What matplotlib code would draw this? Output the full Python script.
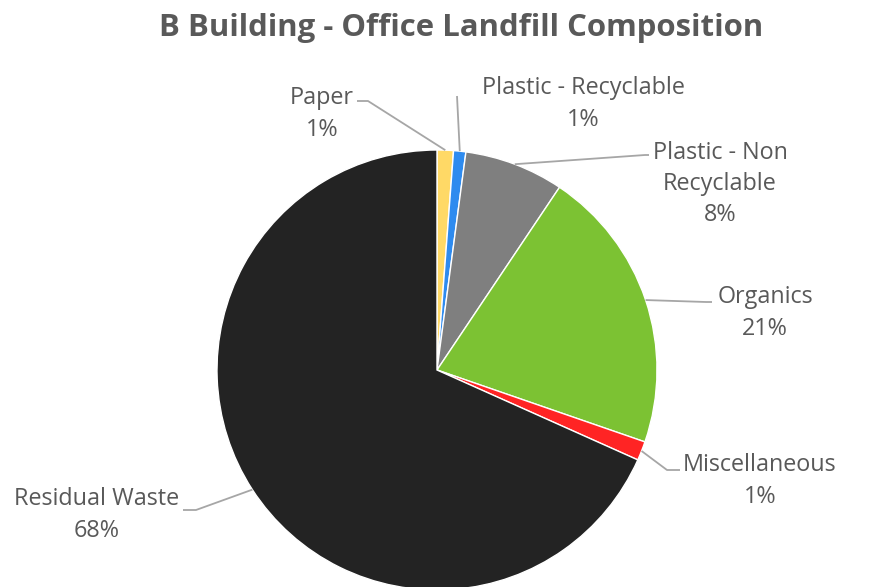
import numpy as np
import matplotlib
matplotlib.use("Agg")
import matplotlib.pyplot as plt

plt.rcParams['font.family'] = ['Open Sans', 'DejaVu Sans']

# landfill composition, percent of total
categories = ['Paper', 'Plastic - Recyclable', 'Plastic - Non\nRecyclable',
              'Organics', 'Miscellaneous', 'Residual Waste']
shares = [1.2, 0.9, 7.3, 20.9, 1.4, 68.3]
pct_labels = ['1%', '1%', '8%', '21%', '1%', '68%']
colors = ['#FFD966', '#2E8BEF', '#7F7F7F', '#7CC233', '#FF2424', '#232323']

W, H = 870, 587
fig = plt.figure(figsize=(W / 100, H / 100), dpi=100)
ax = fig.add_axes([0, 0, 1, 1])

cx, cy, r = 437, H - 370, 220
wedges, _ = ax.pie(shares, colors=colors, startangle=90, counterclock=False,
                   center=(cx, cy), radius=r, frame=True,
                   wedgeprops=dict(edgecolor='white', linewidth=1))
ax.set_xlim(0, W)
ax.set_ylim(0, H)
ax.set_aspect('equal')
ax.axis('off')

grey = '#595959'
line_c = '#A6A6A6'

# label text centre (px from top-left) and leader path (elbow, label end)
label_pos = [(322, 114), (583, 104), (720, 184), (765, 313), (760, 481), (97, 515)]
elbows = [[(368, 101), (357, 101)],
          [(457, 96)],
          [(645, 155), (649, 155)],
          [(706, 302), (712, 302)],
          [(667, 470), (680, 470)],
          [(196, 510), (183, 510)]]

for w, lab, pct, (tx, ty), path in zip(wedges, categories, pct_labels, label_pos, elbows):
    mid = np.deg2rad((w.theta1 + w.theta2) / 2)
    ax_pt = (cx + r * np.cos(mid), cy + r * np.sin(mid))
    xs = [ax_pt[0]] + [p[0] for p in path]
    ys = [ax_pt[1]] + [H - p[1] for p in path]
    ax.plot(xs, ys, color=line_c, lw=1.3, solid_capstyle='butt')
    ax.text(tx, H - ty, lab + '\n' + pct, ha='center', va='center',
            fontsize=16.8, color=grey, linespacing=1.4)

ax.text(W / 2 + 26, H - 28, 'B Building - Office Landfill Composition',
        ha='center', va='center', fontsize=22.4, fontweight='bold', color=grey)

fig.savefig('out.png', dpi=100)
